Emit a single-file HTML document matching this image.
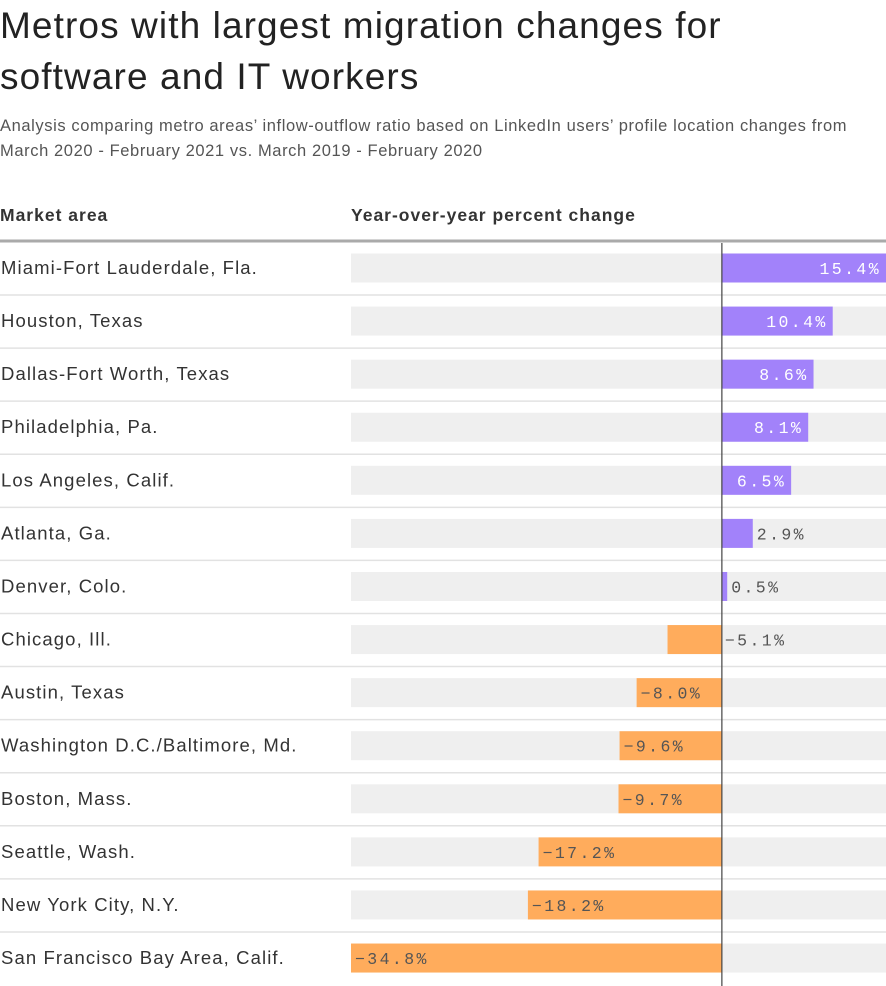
<!DOCTYPE html>
<html><head><meta charset="utf-8"><style>
body{margin:0;background:#fff;width:886px;height:986px;overflow:hidden;font-family:"Liberation Sans",sans-serif;color:#222}
h1{position:absolute;left:0;top:0px;margin:0;font-weight:400;font-size:37px;line-height:51px;letter-spacing:1.1px;color:#222}
.sub{position:absolute;left:0;top:114px;font-size:16.5px;line-height:25px;color:#555;width:886px;letter-spacing:0.6px}
.hdr{position:absolute;top:205px;font-size:17.5px;font-weight:700;color:#333;letter-spacing:1px}
</style></head><body>
<h1>Metros with largest migration changes for<br>software and IT workers</h1>
<div class="sub">Analysis comparing metro areas’ inflow-outflow ratio based on LinkedIn users’ profile location changes from<br>March 2020 - February 2021 vs. March 2019 - February 2020</div>
<div class="hdr" style="left:0">Market area</div>
<div class="hdr" style="left:351px">Year-over-year percent change</div>
<svg id="chart" width="886" height="986" style="position:absolute;left:0;top:0"></svg>
<script>
const categories=["Miami-Fort Lauderdale, Fla.","Houston, Texas","Dallas-Fort Worth, Texas","Philadelphia, Pa.","Los Angeles, Calif.","Atlanta, Ga.","Denver, Colo.","Chicago, Ill.","Austin, Texas","Washington D.C./Baltimore, Md.","Boston, Mass.","Seattle, Wash.","New York City, N.Y.","San Francisco Bay Area, Calif."];
const values=[15.4,10.4,8.6,8.1,6.5,2.9,0.5,-5.1,-8.0,-9.6,-9.7,-17.2,-18.2,-34.8];
const labels=["15.4%","10.4%","8.6%","8.1%","6.5%","2.9%","0.5%","−5.1%","−8.0%","−9.6%","−9.7%","−17.2%","−18.2%","−34.8%"];
const NS="http://www.w3.org/2000/svg";
const svg=document.getElementById('chart');
const x0=351,x1=886,vmin=-34.8,vmax=15.4;
const x=v=>x0+(v-vmin)/(vmax-vmin)*(x1-x0);
const y=i=>268+i*53.08;
function mk(t,a){const e=document.createElementNS(NS,t);for(const k in a)e.setAttribute(k,a[k]);svg.appendChild(e);return e;}
const hl=mk('line',{x1:0,x2:886,y1:241,y2:241,stroke:'#aaa','stroke-width':3});


categories.forEach((c,i)=>{
  const cy=y(i);
  if(i<categories.length-1){const s=mk('line',{x1:0,x2:886,y1:cy+27,y2:cy+27,stroke:'#e2e2e2','stroke-width':1.5});
  
  }
  const t=mk('text',{x:1,y:cy+6,'font-size':18.5,fill:'#333','font-family':'Liberation Sans, sans-serif','letter-spacing':'1.1'});t.textContent=c;
  
  
  const tr=mk('rect',{x:x0,y:cy-14.5,width:x1-x0,height:29,fill:'#efefef'});
  
  
  const v=values[i],a=Math.min(x(0),x(v)),w=Math.abs(x(v)-x(0));
  const b=mk('rect',{x:a,y:cy-14.5,width:w,height:29,fill:v>=0?'#a282fa':'#ffac5c'});
  
  
  let lx,anchor,fill;
  if(v>=0){if(w>50){lx=x(v)-5;anchor='end';fill='#fff';}else{lx=x(v)+4;anchor='start';fill='#555';}}
  else{if(w>60){lx=x(v)+4;anchor='start';fill='#555';}else{lx=x(0)+3;anchor='start';fill='#555';}}
  const l=mk('text',{x:lx,y:cy+6,'text-anchor':anchor,'font-size':16.5,fill:fill,'font-family':'Liberation Mono, monospace','letter-spacing':'2.4'});
  l.textContent=labels[i];
  
  
});
const z=mk('line',{x1:x(0),x2:x(0),y1:243,y2:986,stroke:'#444','stroke-width':1.2});


</script>
</body></html>
